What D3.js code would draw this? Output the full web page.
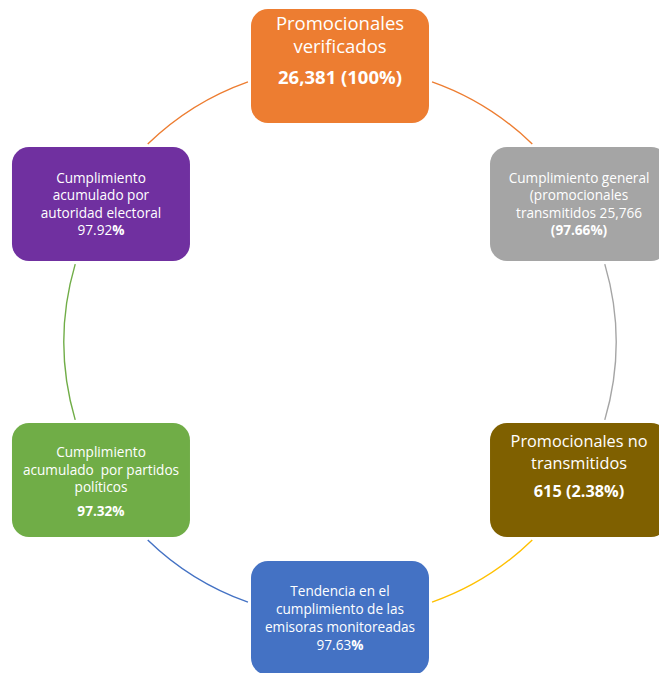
<!DOCTYPE html>
<html>
<head>
<meta charset="utf-8">
<script src="https://cdn.jsdelivr.net/npm/d3@7"></script>
<style>
  html, body { margin: 0; padding: 0; background: #fff; }
  svg { display: block; }
</style>
</head>
<body>
<svg id="chart" width="659" height="673"></svg>
<script>
// ---- data ----
const nodeNames = [
  "Promocionales verificados",
  "Cumplimiento general",
  "Promocionales no transmitidos",
  "Tendencia en el cumplimiento de las emisoras monitoreadas",
  "Cumplimiento acumulado por partidos políticos",
  "Cumplimiento acumulado por autoridad electoral"
];
const nodeLines = [
  ["Promocionales", "verificados"],
  ["Cumplimiento general", "(promocionales", "transmitidos 25,766"],
  ["Promocionales no", "transmitidos"],
  ["Tendencia en el", "cumplimiento de las", "emisoras monitoreadas"],
  ["Cumplimiento", "acumulado  por partidos", "políticos"],
  ["Cumplimiento", "acumulado por", "autoridad electoral"]
];
// value line: [regular part, bold part]
const nodeValues = [
  ["", "26,381 (100%)"],
  ["", "(97.66%)"],
  ["", "615 (2.38%)"],
  ["97.63", "%"],
  ["", "97.32%"],
  ["97.92", "%"]
];
const nodeColors = ["#ED7D31", "#A5A5A5", "#7F6000", "#4472C4", "#70AD47", "#7030A0"];
const arcColors  = ["#ED7D31", "#A5A5A5", "#FFC000", "#4472C4", "#70AD47", "#ED7D31"];

// ---- layout (styles) ----
const textLayout = [
  { size: 18.5, lh: 23,   gap: 8, first: -36 },
  { size: 13.6, lh: 17.3, gap: 0, first: -21 },
  { size: 16.3, lh: 22,   gap: 6, first: -33 },
  { size: 13.6, lh: 18,   gap: 0, first: -22 },
  { size: 13.6, lh: 17.5, gap: 6.5, first: -23 },
  { size: 13.6, lh: 17.3, gap: 0, first: -21 }
];

const svg = d3.select("#chart");
const cx = 340, cy = 342, R = 276;
const boxW = 178, boxH = 114, boxR = 17, arcGap = 3;

const angle = d3.scaleLinear().domain([0, nodeNames.length]).range([0, 2 * Math.PI]);
const nodes = nodeNames.map((name, i) => {
  const a = angle(i);
  return { i, name, a, x: cx + R * Math.sin(a), y: cy - R * Math.cos(a) };
});

function insideBox(n, a) {
  const px = cx + R * Math.sin(a), py = cy - R * Math.cos(a);
  return Math.abs(px - n.x) <= boxW / 2 + arcGap && Math.abs(py - n.y) <= boxH / 2 + arcGap;
}

// arcs
const step = 0.0005;
nodes.forEach((n, i) => {
  const next = nodes[(i + 1) % nodes.length];
  const aNext = n.a + angle(1);
  let a0 = n.a;
  while (insideBox(n, a0)) a0 += step;
  let a1 = aNext;
  while (insideBox(next, a1)) a1 -= step;
  const p = d3.path();
  p.arc(cx, cy, R, a0 - Math.PI / 2, a1 - Math.PI / 2, false);
  svg.append("path")
    .attr("d", p.toString())
    .attr("fill", "none")
    .attr("stroke", arcColors[i])
    .attr("stroke-width", 1.4);
});

// boxes
const g = svg.selectAll("g.node").data(nodes).join("g")
  .attr("class", "node")
  .attr("transform", d => `translate(${d.x},${d.y})`);

g.append("rect")
  .attr("x", -boxW / 2).attr("y", -boxH / 2)
  .attr("width", boxW).attr("height", boxH)
  .attr("rx", boxR).attr("ry", boxR)
  .attr("fill", d => nodeColors[d.i]);

g.each(function(d) {
  const L = textLayout[d.i];
  const t = d3.select(this).append("text")
    .attr("text-anchor", "middle")
    .attr("fill", "#fff")
    .attr("font-family", "'Open Sans', sans-serif")
    .attr("font-size", L.size);
  const lines = nodeLines[d.i];
  lines.forEach((ln, k) => {
    t.append("tspan").attr("x", 0).attr("y", L.first + k * L.lh)
      .attr("xml:space", "preserve")
      .style("white-space", "pre")
      .text(ln);
  });
  const vy = L.first + lines.length * L.lh + L.gap;
  const v = nodeValues[d.i];
  const vt = d3.select(this).append("text")
    .attr("text-anchor", "middle")
    .attr("fill", "#fff")
    .attr("font-family", "'Open Sans', sans-serif")
    .attr("font-size", L.size)
    .attr("x", 0).attr("y", vy);
  if (v[0]) vt.append("tspan").text(v[0]);
  if (v[1]) vt.append("tspan").attr("font-weight", "bold").text(v[1]);
});
</script>
</body>
</html>
